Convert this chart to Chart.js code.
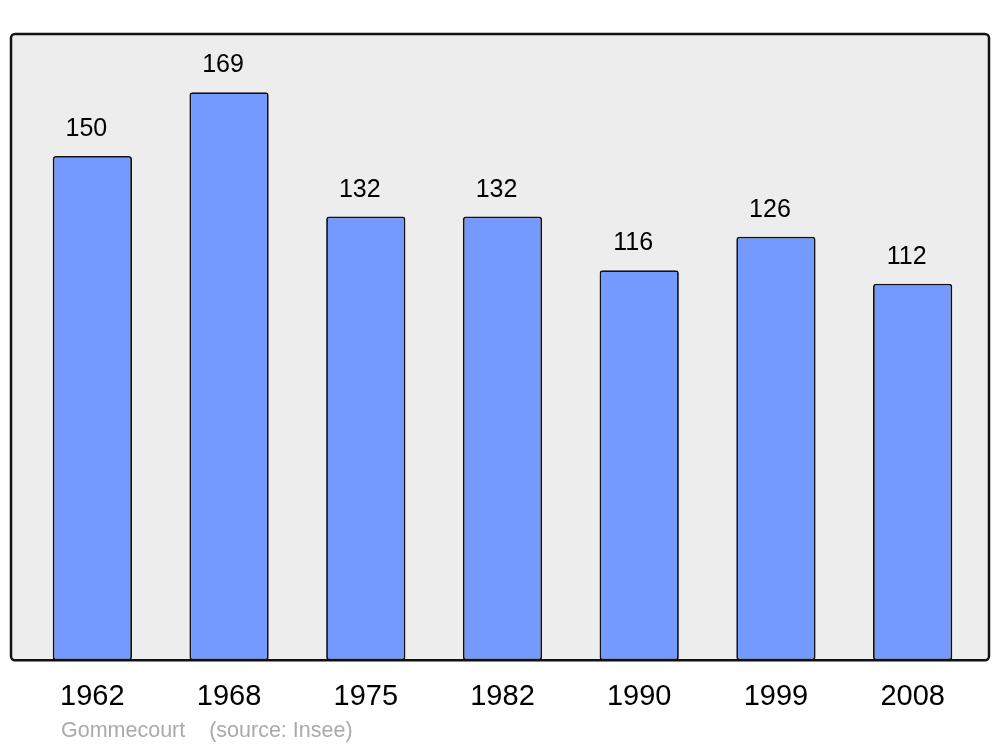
<!DOCTYPE html>
<html>
<head>
<meta charset="utf-8">
<script src="https://cdn.jsdelivr.net/npm/chart.js@4"></script>
<style>
  html, body { margin: 0; padding: 0; background: #fff; }
  #wrap { width: 1000px; height: 747px; }
</style>
</head>
<body>
<div id="wrap"><canvas id="myChart" width="1000" height="747"></canvas></div>
<script>
var years = ['1962', '1968', '1975', '1982', '1990', '1999', '2008'];
var population = [150, 169, 132, 132, 116, 126, 112];
var sourceText = 'Gommecourt    (source: Insee)';

// grey panel behind the bars, black frame on top
function framePath(chart) {
    var a = chart.chartArea, c = chart.ctx;
    c.beginPath();
    c.roundRect(a.left - 13, a.top, a.right - a.left + 21, a.bottom - a.top, 4);
}

var framePlugin = {
    id: 'frame',
    beforeDatasetsDraw: function (chart) {
        var c = chart.ctx;
        c.save();
        framePath(chart);
        c.fillStyle = '#ededed';
        c.fill();
        c.restore();
    },
    afterDatasetsDraw: function (chart) {
        var c = chart.ctx;
        c.save();
        framePath(chart);
        c.lineWidth = 2.5;
        c.strokeStyle = '#111';
        c.stroke();

        // value labels above the bars
        var meta = chart.getDatasetMeta(0);
        c.font = '25px "Liberation Sans", Arial, sans-serif';
        c.fillStyle = '#000';
        c.textAlign = 'center';
        c.textBaseline = 'alphabetic';
        meta.data.forEach(function (bar, i) {
            c.fillText(String(population[i]), bar.x - 6, bar.y - 20);
        });

        // source line
        c.font = '21.5px "Liberation Sans", Arial, sans-serif';
        c.fillStyle = '#aaaaaa';
        c.textAlign = 'left';
        c.fillText(sourceText, 61, 737);
        c.restore();
    }
};

var ctx = document.getElementById('myChart');
var myChart = new Chart(ctx, {
    type: 'bar',
    data: {
        labels: years,
        datasets: [{
            data: population,
            backgroundColor: '#7499ff',
            borderColor: '#111',
            borderWidth: 1.8,
            borderRadius: 3,
            borderSkipped: false,
            barPercentage: 0.58,
            categoryPercentage: 1
        }]
    },
    options: {
        responsive: false,
        animation: false,
        layout: { padding: { left: 24, right: 19, top: 34, bottom: 22 } },
        plugins: {
            legend: { display: false },
            tooltip: { enabled: false }
        },
        scales: {
            x: {
                grid: { display: false },
                border: { display: false },
                ticks: {
                    color: '#000',
                    padding: 11,
                    font: { size: 29, family: '"Liberation Sans", Arial, sans-serif' }
                }
            },
            y: {
                display: false,
                min: 0,
                max: 186.3
            }
        }
    },
    plugins: [framePlugin]
});
</script>
</body>
</html>
